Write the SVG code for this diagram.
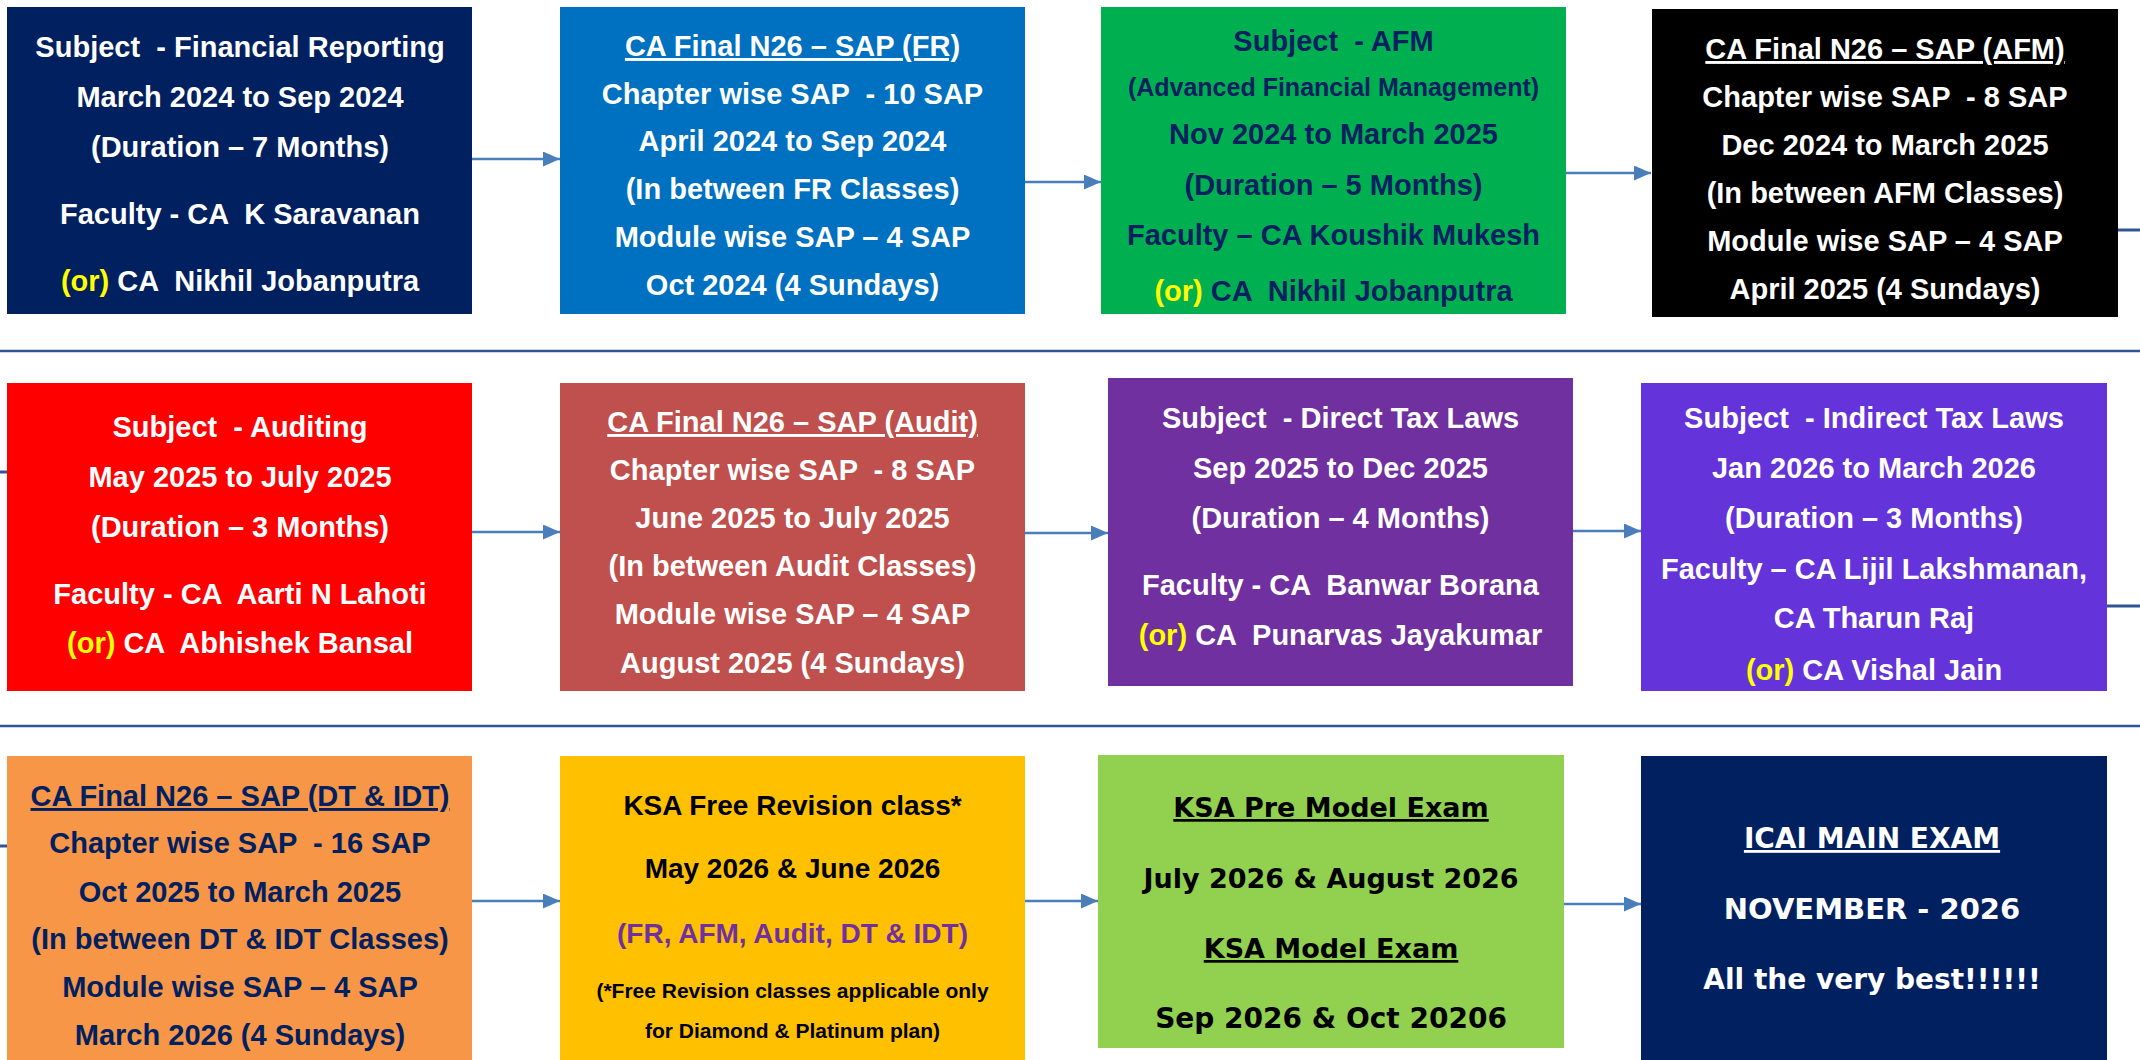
<svg xmlns="http://www.w3.org/2000/svg" width="2140" height="1060" viewBox="0 0 2140 1060" xml:space="preserve">
<defs>
<style>
text{font-family:"Liberation Sans",Arial,sans-serif;font-weight:bold;font-size:29px;text-anchor:middle;white-space:pre}
.w{fill:#ffffff}
.n{fill:#002060}
.k{fill:#000000}
.y{fill:#FFFF00}
.p{fill:#7030A0}
.u{text-decoration:underline}
.v{font-family:"DejaVu Sans",Verdana,sans-serif}
.sm{font-size:21px}
.arr{stroke:#4A7EBB;stroke-width:2.5;fill:none;marker-end:url(#ah)}
.ln{stroke:#2F5597;stroke-width:3;fill:none}
.sep{stroke:#2F5597;stroke-width:2.5;fill:none}
</style>
<marker id="ah" markerUnits="userSpaceOnUse" markerWidth="18" markerHeight="15" refX="17" refY="7.5" orient="auto"><path d="M0,0 L17,7.5 L0,15 z" fill="#4A7EBB"/></marker>
</defs>
<rect width="2140" height="1060" fill="#ffffff"/>
<g id="separators">
<line class="sep" x1="0" y1="351" x2="2140" y2="351"/>
<line class="sep" x1="0" y1="726" x2="2140" y2="726"/>
</g>
<g id="connectors">
<line class="arr" x1="472" y1="159" x2="560" y2="159"/>
<line class="arr" x1="1025" y1="182" x2="1101" y2="182"/>
<line class="arr" x1="1566" y1="173" x2="1651" y2="173"/>
<line class="arr" x1="472" y1="532" x2="560" y2="532"/>
<line class="arr" x1="1025" y1="533" x2="1108" y2="533"/>
<line class="arr" x1="1573" y1="531" x2="1641" y2="531"/>
<line class="arr" x1="472" y1="901" x2="560" y2="901"/>
<line class="arr" x1="1025" y1="901" x2="1098" y2="901"/>
<line class="arr" x1="1564" y1="904" x2="1641" y2="904"/>
<line class="ln" x1="2118" y1="230" x2="2140" y2="230"/>
<line class="ln" x1="0" y1="472" x2="7" y2="472"/>
<line class="ln" x1="2107" y1="606" x2="2140" y2="606"/>
<line class="ln" x1="0" y1="846" x2="7" y2="846"/>
</g>
<g id="fr">
<rect x="7" y="7" width="465" height="307" fill="#002060"/>
<text class="w" x="240" y="57">Subject  - Financial Reporting</text>
<text class="w" x="240" y="107">March 2024 to Sep 2024</text>
<text class="w" x="240" y="157">(Duration – 7 Months)</text>
<text class="w" x="240" y="224">Faculty - CA  K Saravanan</text>
<text class="w" x="240" y="291"><tspan class="y">(or)</tspan> CA  Nikhil Jobanputra</text>
</g>
<g id="sap-fr">
<rect x="560" y="7" width="465" height="307" fill="#0070C0"/>
<text class="w u" x="792.5" y="56">CA Final N26 – SAP (FR)</text>
<text class="w" x="792.5" y="104">Chapter wise SAP  - 10 SAP</text>
<text class="w" x="792.5" y="151">April 2024 to Sep 2024</text>
<text class="w" x="792.5" y="199">(In between FR Classes)</text>
<text class="w" x="792.5" y="247">Module wise SAP – 4 SAP</text>
<text class="w" x="792.5" y="295">Oct 2024 (4 Sundays)</text>
</g>
<g id="afm">
<rect x="1101" y="7" width="465" height="307" fill="#00B050"/>
<text class="n" x="1333.5" y="51">Subject  - AFM</text>
<text class="n" x="1333.5" y="96" style="font-size:25px">(Advanced Financial Management)</text>
<text class="n" x="1333.5" y="144">Nov 2024 to March 2025</text>
<text class="n" x="1333.5" y="195">(Duration – 5 Months)</text>
<text class="n" x="1333.5" y="245">Faculty – CA Koushik Mukesh</text>
<text class="n" x="1333.5" y="301"><tspan class="y">(or)</tspan> CA  Nikhil Jobanputra</text>
</g>
<g id="sap-afm">
<rect x="1652" y="9" width="466" height="308" fill="#000000"/>
<text class="w u" x="1885" y="59">CA Final N26 – SAP (AFM)</text>
<text class="w" x="1885" y="107">Chapter wise SAP  - 8 SAP</text>
<text class="w" x="1885" y="155">Dec 2024 to March 2025</text>
<text class="w" x="1885" y="203">(In between AFM Classes)</text>
<text class="w" x="1885" y="251">Module wise SAP – 4 SAP</text>
<text class="w" x="1885" y="299">April 2025 (4 Sundays)</text>
</g>
<g id="audit">
<rect x="7" y="383" width="465" height="308" fill="#FF0000"/>
<text class="w" x="240" y="437">Subject  - Auditing</text>
<text class="w" x="240" y="487">May 2025 to July 2025</text>
<text class="w" x="240" y="537">(Duration – 3 Months)</text>
<text class="w" x="240" y="604">Faculty - CA  Aarti N Lahoti</text>
<text class="w" x="240" y="653"><tspan class="y">(or)</tspan> CA  Abhishek Bansal</text>
</g>
<g id="sap-audit">
<rect x="560" y="383" width="465" height="308" fill="#C0504D"/>
<text class="w u" x="792.5" y="432">CA Final N26 – SAP (Audit)</text>
<text class="w" x="792.5" y="480">Chapter wise SAP  - 8 SAP</text>
<text class="w" x="792.5" y="528">June 2025 to July 2025</text>
<text class="w" x="792.5" y="576">(In between Audit Classes)</text>
<text class="w" x="792.5" y="624">Module wise SAP – 4 SAP</text>
<text class="w" x="792.5" y="673">August 2025 (4 Sundays)</text>
</g>
<g id="dt">
<rect x="1108" y="378" width="465" height="308" fill="#7030A0"/>
<text class="w" x="1340.5" y="428">Subject  - Direct Tax Laws</text>
<text class="w" x="1340.5" y="478">Sep 2025 to Dec 2025</text>
<text class="w" x="1340.5" y="528">(Duration – 4 Months)</text>
<text class="w" x="1340.5" y="595">Faculty - CA  Banwar Borana</text>
<text class="w" x="1340.5" y="645"><tspan class="y">(or)</tspan> CA  Punarvas Jayakumar</text>
</g>
<g id="idt">
<rect x="1641" y="383" width="466" height="308" fill="#6434DA"/>
<text class="w" x="1874" y="428">Subject  - Indirect Tax Laws</text>
<text class="w" x="1874" y="478">Jan 2026 to March 2026</text>
<text class="w" x="1874" y="528">(Duration – 3 Months)</text>
<text class="w" x="1874" y="579">Faculty – CA Lijil Lakshmanan,</text>
<text class="w" x="1874" y="628">CA Tharun Raj</text>
<text class="w" x="1874" y="680"><tspan class="y">(or)</tspan> CA Vishal Jain</text>
</g>
<g id="sap-dt-idt">
<rect x="7" y="756" width="465" height="310" fill="#F79646"/>
<text class="n u" x="240" y="806">CA Final N26 – SAP (DT &amp; IDT)</text>
<text class="n" x="240" y="853">Chapter wise SAP  - 16 SAP</text>
<text class="n" x="240" y="902">Oct 2025 to March 2025</text>
<text class="n" x="240" y="949">(In between DT &amp; IDT Classes)</text>
<text class="n" x="240" y="997">Module wise SAP – 4 SAP</text>
<text class="n" x="240" y="1045">March 2026 (4 Sundays)</text>
</g>
<g id="revision">
<rect x="560" y="756" width="465" height="310" fill="#FFC000"/>
<text class="k" x="792.5" y="815" style="font-size:28px">KSA Free Revision class*</text>
<text class="k" x="792.5" y="878" style="font-size:28px">May 2026 &amp; June 2026</text>
<text class="p" x="792.5" y="943" style="font-size:28px">(FR, AFM, Audit, DT &amp; IDT)</text>
<text class="k sm" x="792.5" y="998">(*Free Revision classes applicable only</text>
<text class="k sm" x="792.5" y="1038">for Diamond &amp; Platinum plan)</text>
</g>
<g id="model-exam">
<rect x="1098" y="755" width="466" height="293" fill="#92D050"/>
<text class="k v u" x="1331" y="817" style="font-size:27px">KSA Pre Model Exam</text>
<text class="k v" x="1331" y="888" style="font-size:27px">July 2026 &amp; August 2026</text>
<text class="k v u" x="1331" y="958" style="font-size:27px">KSA Model Exam</text>
<text class="k v" x="1331" y="1028" style="font-size:28px">Sep 2026 &amp; Oct 20206</text>
</g>
<g id="icai">
<rect x="1641" y="756" width="466" height="310" fill="#002060"/>
<text class="w v u" x="1872" y="848" style="font-size:28px">ICAI MAIN EXAM</text>
<text class="w v" x="1872" y="919" style="font-size:29px">NOVEMBER - 2026</text>
<text class="w v" x="1872" y="989" style="font-size:28px">All the very best!!!!!!</text>
</g>
</svg>
